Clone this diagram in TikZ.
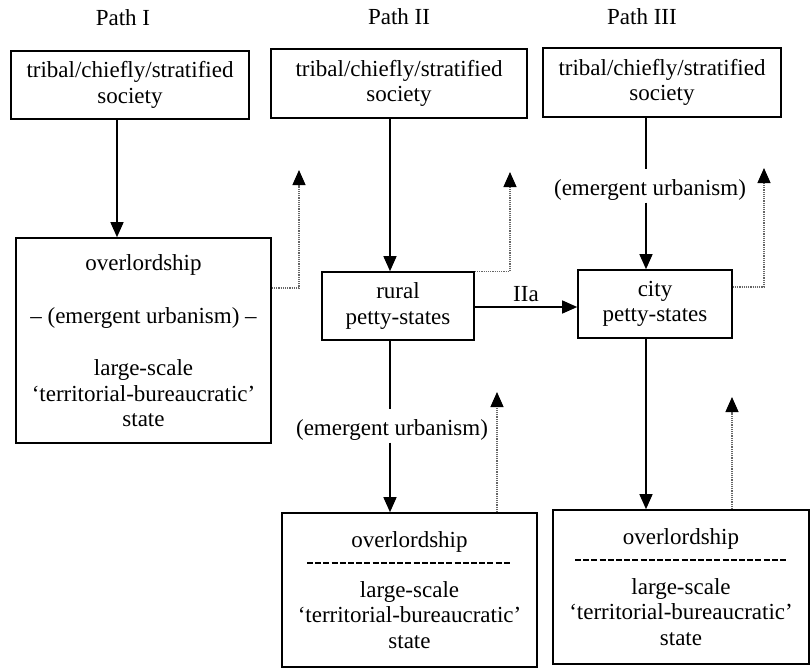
\documentclass[tikz,border=0pt]{standalone}
\usepackage{fontspec}
\setmainfont{Liberation Serif}
\usetikzlibrary{arrows.meta}
\tikzset{
  box/.style={draw, line width=1.6pt, inner sep=0pt, align=center,
    font=\fontsize{23}{25.5}\selectfont},
  lbl/.style={inner xsep=2pt, inner ysep=10pt, font=\fontsize{23}{25.5}\selectfont},
  title/.style={font=\fontsize{23}{25.5}\selectfont},
  arr/.style={line width=1.3pt, -{Triangle[length=15pt,width=13pt]}},
  plain/.style={line width=1.3pt},
  dots/.style={line width=1.2pt, densely dotted, black!60,
    -{Triangle[length=15pt,width=13pt,black]}},
  sepline/.style={line width=1.3pt, dash pattern=on 6pt off 2.2pt}
}
\begin{document}
\begin{tikzpicture}[x=1pt,y=-1pt]
\useasboundingbox (0,0) rectangle (812,670);

% titles
\node[title] (t1) at (123,18) {Path I};
\node[title] (t2) at (399,17) {Path II};
\node[title] (t3) at (642,17) {Path III};

% top boxes
\node[box, minimum width=238pt, minimum height=68pt] (s1) at (130,85) {tribal/chiefly/stratified\\society};
\node[box, minimum width=256pt, minimum height=69pt] (s2) at (399,83.5) {tribal/chiefly/stratified\\society};
\node[box, minimum width=238pt, minimum height=69pt] (s3) at (662,82.5) {tribal/chiefly/stratified\\society};

% path I overlordship
\node[box, minimum width=255pt, minimum height=205pt] (ov1) at (143.5,340.5)
  {overlordship\\[27.5pt] -- (emergent urbanism) --\\[27pt] large-scale\\ ‘territorial-bureaucratic’\\ state};

% petty states
\node[box, minimum width=152pt, minimum height=68pt] (rural) at (398,306) {rural\\petty-states};
\node[box, minimum width=154pt, minimum height=68pt] (city) at (655,304) {city\\petty-states};

% bottom boxes
\node[box, minimum width=255pt, minimum height=154pt] (b2) at (409.5,590)
  {overlordship\\[24.5pt] large-scale\\ ‘territorial-bureaucratic’\\ state};
\node[box, minimum width=256pt, minimum height=154pt] (b3) at (681,587)
  {overlordship\\[24.5pt] large-scale\\ ‘territorial-bureaucratic’\\ state};

% separator lines in bottom boxes
\coordinate (d2a) at (307,563);
\coordinate (d2b) at (510,563);
\coordinate (d3a) at (575,560);
\coordinate (d3b) at (787,560);
\draw[sepline] (d2a) -- (d2b);
\draw[sepline] (d3a) -- (d3b);

% emergent urbanism labels
\node[lbl] (eu2) at (392,430) {(emergent urbanism)};
\node[lbl] (eu3) at (650,190) {(emergent urbanism)};

% x positions
\coordinate (x1) at (117,0);
\coordinate (x2) at (390,0);
\coordinate (x3) at (646,0);

% solid arrows
\draw[arr] (s1.south -| x1) -- (ov1.north -| x1);
\draw[arr] (s2.south -| x2) -- (rural.north -| x2);
\draw[plain] (rural.south -| x2) -- (eu2.north -| x2);
\draw[arr] ([yshift=8pt]eu2.south -| x2) -- (b2.north -| x2);
\draw[plain] (s3.south -| x3) -- (eu3.north -| x3);
\draw[arr] ([yshift=8pt]eu3.south -| x3) -- (city.north -| x3);
\draw[arr] (city.south -| x3) -- (b3.north -| x3);

% IIa
\coordinate (yIIa) at (0,307);
\draw[arr] (rural.east |- yIIa) -- node[title, above=1pt] (iia) {IIa} (city.west |- yIIa);

% dotted feedback arrows
\coordinate (p1) at (299,288);
\coordinate (q1) at (299,170);
\draw[dots] (ov1.east |- p1) -- (p1) -- (q1);
\coordinate (p2) at (510,0);
\coordinate (q2) at (510,172);
\draw[dots] (rural.north east) -- (rural.north east -| p2) -- (q2);
\coordinate (p3) at (764,287);
\coordinate (q3) at (764,168);
\draw[dots] (city.east |- p3) -- (p3) -- (q3);
\coordinate (q4) at (497,392);
\draw[dots] (b2.north -| q4) -- (q4);
\coordinate (q5) at (732,397);
\draw[dots] (b3.north -| q5) -- (q5);
\end{tikzpicture}
\end{document}
